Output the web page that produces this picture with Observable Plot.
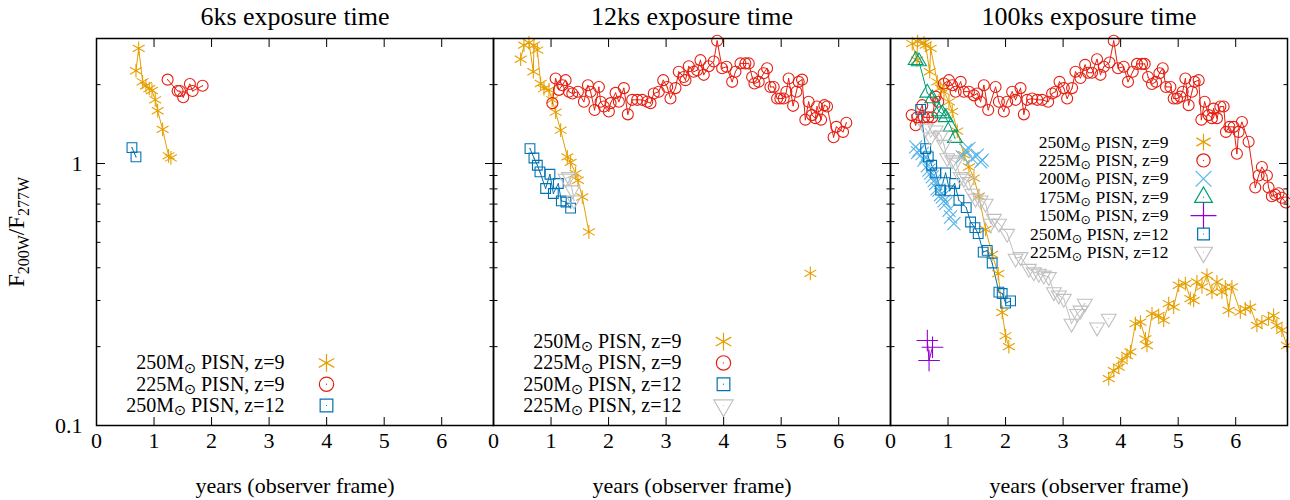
<!DOCTYPE html>
<html><head><meta charset="utf-8">
<script src="https://cdn.jsdelivr.net/npm/d3@7"></script>
<script src="https://cdn.jsdelivr.net/npm/@observablehq/plot@0.6"></script>
<style>
body{margin:0;background:#fff}
#chart{width:1290px;height:500px}
#chart svg text{font-family:'Liberation Serif','Times New Roman',serif !important;font-weight:normal}
</style>
</head><body><div id="chart"></div>
<script>
// ---------- labels & ticks ----------
const panels = ["6ks exposure time", "12ks exposure time", "100ks exposure time"];
const xAxisLabel = "years (observer frame)";
const xTicks = [0, 1, 2, 3, 4, 5, 6];
const yMajorTicks = [0.1, 1];
const yTickLabels = ["0.1", "1"];
const yMinorTicks = [0.2, 0.3, 0.4, 0.5, 0.6, 0.7, 0.8, 0.9, 2, 3];

// ---------- series ----------
const seriesKeys = ["250z9", "225z9", "200z9", "175z9", "150z9", "250z12", "225z12"];
const seriesLabels = ["250M⊙ PISN, z=9", "225M⊙ PISN, z=9", "200M⊙ PISN, z=9", "175M⊙ PISN, z=9",
  "150M⊙ PISN, z=9", "250M⊙ PISN, z=12", "225M⊙ PISN, z=12"];
const panelLegends = [
  ["250z9", "225z9", "250z12"],
  ["250z9", "225z9", "250z12", "225z12"],
  ["250z9", "225z9", "200z9", "175z9", "150z9", "250z12", "225z12"]
];

// ---------- 6ks ----------
const t6_250z9 = [0.686, 0.733, 0.802, 0.859, 0.917, 0.964, 1.021, 1.063, 1.149, 1.253, 1.293];
const v6_250z9 = [2.26, 2.75, 2.05, 1.98, 1.93, 1.90, 1.75, 1.59, 1.35, 1.07, 1.05];
const t6_225z9 = [1.236, 1.41, 1.45, 1.507, 1.623, 1.67, 1.844];
const v6_225z9 = [2.09, 1.89, 1.89, 1.79, 2.01, 1.89, 1.98];
const t6_250z12 = [0.616, 0.686];
const v6_250z12 = [1.15, 1.06];

// ---------- 12ks ----------
const t12_250z9 = [0.472, 0.53, 0.617, 0.692, 0.703, 0.762, 0.82, 0.877, 0.964, 1.02, 1.08, 1.167, 1.283, 1.34, 1.427, 1.467, 1.543, 1.658];
const v12_250z9 = [2.50, 2.83, 2.89, 2.24, 2.83, 2.71, 2.02, 1.93, 1.91, 1.75, 1.57, 1.34, 1.06, 1.01, 0.916, 0.863, 0.745, 0.548];
const t12_250z9_late = [5.507];
const v12_250z9_late = [0.381];
const t12_225z9 = [1.023,1.08,1.137,1.196,1.253,1.311,1.37,1.467,1.571,1.641,1.688,1.757,1.832,1.861,1.918,2.005,2.035,2.122,2.179,2.266,2.335,2.411,2.498,2.585,2.672,2.729,2.786,2.873,2.95,3.019,3.076,3.163,3.22,3.307,3.337,3.394,3.481,3.54,3.597,3.655,3.741,3.828,3.887,3.974,4.049,4.148,4.205,4.292,4.378,4.436,4.495,4.535,4.609,4.696,4.755,4.813,4.87,4.929,4.986,5.043,5.09,5.13,5.207,5.264,5.304,5.363,5.42,5.477,5.536,5.594,5.623,5.693,5.75,5.797,5.911,5.958,6.075,6.132];
const v12_225z9 = [1.70,2.11,1.91,1.99,2.08,1.88,1.85,1.88,1.72,1.99,1.88,1.60,1.96,1.72,1.65,1.58,1.70,1.86,1.72,1.94,1.54,1.75,1.75,1.75,1.72,1.70,1.85,1.88,2.08,1.96,1.77,1.94,2.24,2.14,2.08,2.35,2.24,2.27,2.48,2.18,2.35,2.45,2.94,2.31,2.34,2.05,2.24,2.41,2.41,2.41,2.14,2.02,2.05,2.21,2.31,1.96,1.96,1.77,1.77,1.77,1.88,2.11,1.66,1.88,2.05,2.09,1.47,1.72,1.53,1.49,1.65,1.47,1.67,1.65,1.26,1.38,1.32,1.43];
const t12_250z12 = [0.634, 0.703, 0.762, 0.807, 0.906, 0.981, 1.04, 1.127, 1.179, 1.259, 1.34];
const v12_250z12 = [1.14, 1.05, 0.985, 0.929, 0.803, 0.91, 0.768, 0.839, 0.72, 0.713, 0.676];
const t12_225z12 = [1.253, 1.311, 1.37, 1.398];
const v12_225z12 = [0.876, 0.889, 0.791, 0.724];

// ---------- 100ks ----------
const t100_250z9 = [0.378,0.46,0.47,0.582,0.611,0.681,0.698,0.8125,0.872,0.929,1.016,1.073,1.16,1.276,1.363,1.45,1.536,1.653,1.767,1.872,1.941,2.0,2.057];
const v100_250z9 = [2.87,2.48,2.92,2.89,2.83,2.24,2.75,2.05,1.94,1.88,1.72,1.58,1.33,1.08,0.97,0.88,0.75,0.56,0.45,0.38,0.27,0.22,0.20];
const t100_250z9_late = [3.793,3.88,3.967,4.024,4.111,4.17,4.257,4.344,4.431,4.458,4.545,4.661,4.748,4.835,4.922,5.009,5.125,5.212,5.269,5.326,5.413,5.5,5.587,5.674,5.76,5.819,5.877,5.934,6.08,6.167,6.253,6.368,6.455,6.571,6.658,6.715,6.802,6.889];
const v100_250z9_late = [0.151,0.162,0.167,0.177,0.185,0.191,0.245,0.248,0.214,0.202,0.267,0.263,0.252,0.292,0.283,0.343,0.348,0.305,0.300,0.353,0.338,0.374,0.323,0.353,0.323,0.338,0.275,0.338,0.271,0.279,0.283,0.241,0.248,0.256,0.263,0.241,0.231,0.202];
const t100_225z9 = [0.368,0.4375,0.465,0.552,0.582,0.656,0.726,0.785,0.83,0.929,1.016,1.073,1.132,1.219,1.276,1.363,1.45,1.507,1.566,1.623,1.698,1.826,1.884,1.97,2.028,2.115,2.174,2.26,2.318,2.375,2.462,2.549,2.635,2.74,2.809,2.868,2.938,3.012,3.07,3.156,3.215,3.302,3.382,3.434,3.503,3.59,3.649,3.707,3.806,3.88,3.955,4.054,4.128,4.21,4.285,4.372,4.418,4.476,4.545,4.615,4.674,4.731,4.788,4.865,4.922,4.979,5.038,5.078,5.125,5.182,5.24,5.286,5.356,5.403,5.46,5.53,5.587,5.616,5.674,5.733,5.79,5.83,5.889,5.964,6.021,6.05,6.108,6.224,6.34,6.398,6.455,6.542,6.571,6.628,6.687,6.745,6.802,6.872];
const v100_225z9 = [1.53,1.40,1.50,1.67,1.50,1.50,1.50,1.80,1.72,2.02,2.08,1.99,1.88,2.05,1.88,1.88,1.82,1.85,1.72,1.99,1.60,1.96,1.72,1.58,1.72,1.88,1.75,1.94,1.54,1.75,1.77,1.75,1.75,1.72,1.85,1.88,2.05,1.94,1.77,1.94,2.24,2.12,2.38,2.22,2.22,2.50,2.18,2.34,2.43,2.94,2.31,2.34,2.05,2.24,2.40,2.40,2.40,2.14,2.01,2.05,2.21,2.31,1.96,1.96,1.77,1.77,1.80,1.88,2.11,1.67,1.88,2.05,2.08,1.47,1.72,1.53,1.49,1.62,1.49,1.65,1.65,1.32,1.38,1.38,1.09,1.32,1.44,1.21,0.81,0.90,0.97,0.90,0.81,0.75,0.76,0.77,0.74,0.71];
const t100_200z9 = [0.4375,0.47,0.495,0.552,0.58,0.611,0.64,0.668,0.70,0.726,0.76,0.785,0.81,0.842,0.87,0.9,0.93,0.958,1.016,1.045,1.102,1.247,1.306,1.363,1.42,1.507,1.566,1.594];
const v100_200z9 = [1.157,1.10,1.124,1.092,1.03,1.06,0.98,0.943,0.92,0.889,0.86,0.839,0.80,0.791,0.76,0.745,0.72,0.703,0.663,0.625,0.59,1.06,1.124,1.141,1.045,1.076,1.014,1.03];
const t100_175z9 = [0.4375, 0.495, 0.639, 0.726, 0.842, 0.9, 0.958, 1.045, 1.12];
const v100_175z9 = [2.48, 2.45, 1.86, 1.77, 1.58, 1.55, 1.50, 1.38, 1.25];
const t100_150z9 = [0.64, 0.67, 0.73];
const v100_150z9 = [0.211, 0.177, 0.199];
const t100_250z12 = [0.524,0.611,0.656,0.715,0.785,0.872,0.958,1.028,1.115,1.189,1.316,1.392,1.467,1.524,1.611,1.681,1.767,1.884,1.941,2.0,2.087];
const v100_250z12 = [1.61,1.14,1.06,0.985,0.921,0.791,0.921,0.786,0.839,0.724,0.679,0.598,0.569,0.54,0.459,0.466,0.417,0.323,0.319,0.293,0.299];
const t100_225z12 = [0.611,0.698,0.785,0.872,0.929,0.986,1.073,1.132,1.219,1.276,1.363,1.42,1.479,1.566,1.653,1.74,1.797,1.884,2.028,2.174,2.26,2.405,2.491,2.578,2.665,2.752,2.839,2.925,3.012,3.146,3.243,3.302,3.377];
const v100_225z12 = [1.36,1.26,1.34,1.28,1.18,1.05,1.03,1.01,0.889,0.876,0.851,0.768,0.735,0.724,0.703,0.59,0.616,0.59,0.54,0.434,0.44,0.397,0.385,0.38,0.374,0.369,0.323,0.314,0.305,0.245,0.267,0.275,0.292];
const t100_225z12_a = [3.59];
const v100_225z12_a = [0.237];
const t100_225z12_b = [3.793];
const v100_225z12_b = [0.256];

// ---------- segments (one line each) ----------
const segments = [
  [0, "250z9", t6_250z9, v6_250z9], [0, "225z9", t6_225z9, v6_225z9], [0, "250z12", t6_250z12, v6_250z12],
  [1, "250z9", t12_250z9, v12_250z9], [1, "250z9", t12_250z9_late, v12_250z9_late],
  [1, "225z9", t12_225z9, v12_225z9], [1, "250z12", t12_250z12, v12_250z12], [1, "225z12", t12_225z12, v12_225z12],
  [2, "250z9", t100_250z9, v100_250z9], [2, "250z9", t100_250z9_late, v100_250z9_late],
  [2, "225z9", t100_225z9, v100_225z9], [2, "200z9", t100_200z9, v100_200z9],
  [2, "175z9", t100_175z9, v100_175z9], [2, "150z9", t100_150z9, v100_150z9],
  [2, "250z12", t100_250z12, v100_250z12], [2, "225z12", t100_225z12, v100_225z12],
  [2, "225z12", t100_225z12_a, v100_225z12_a], [2, "225z12", t100_225z12_b, v100_225z12_b]
];

// ---------- styles ----------
const style = {
  "250z9":  {color: "#e69f00", symbol: "asterisk", r: 6.5, rotate: 0, line: true, dot: false},
  "225z9":  {color: "#e51e10", symbol: "circle", r: 5.5, rotate: 0, line: true, dot: true},
  "200z9":  {color: "#56b4e9", symbol: "times", r: 6, rotate: 0, line: false, dot: false},
  "175z9":  {color: "#009e73", symbol: "triangle", r: 5.5, rotate: 0, line: true, dot: true},
  "150z9":  {color: "#9400d3", symbol: "plus", r: 7, rotate: 0, line: true, dot: false},
  "250z12": {color: "#0072b2", symbol: "square", r: 5.5, rotate: 0, line: true, dot: true},
  "225z12": {color: "#c0c0c0", symbol: "triangle", r: 5.5, rotate: 180, line: true, dot: true}
};

const rows = [];
segments.forEach(([p, key, ts, vs], seg) => {
  const n = Math.min(ts.length, vs.length);
  for (let i = 0; i < n; ++i) rows.push({panel: panels[p], key, seg, t: ts[i], v: vs[i]});
});

const marks = [];
for (const key of seriesKeys) {
  const s = style[key];
  if (!s.line) continue;
  marks.push(Plot.line(rows.filter(d => d.key === key), {fx: "panel", x: "t", y: "v", z: "seg", stroke: s.color, strokeWidth: 1}));
}
for (const key of seriesKeys) {
  const s = style[key];
  const data = rows.filter(d => d.key === key);
  marks.push(Plot.dot(data, {fx: "panel", x: "t", y: "v", symbol: s.symbol, r: s.r, rotate: s.rotate, stroke: s.color, strokeWidth: 1.1, fill: "none"}));
  if (s.dot) marks.push(Plot.dot(data, {fx: "panel", x: "t", y: "v", r: 0.55, fill: s.color, stroke: "none"}));
}
// legends
panelLegends.forEach((keys, p) => {
  const n = keys.length;
  keys.forEach((key, i) => {
    const s = style[key];
    const row = [{panel: panels[p], label: seriesLabels[seriesKeys.indexOf(key)]}];
    let anchor, dyRow, dxText, dxSym, fs, rs;
    if (p < 2) { anchor = "bottom-left"; dyRow = -20 - (n - 1 - i) * 21.3; dxText = 188; dxSym = 230; fs = 20; rs = 1.3; }
    else { anchor = "top-left"; dyRow = 103.5 + i * 18.4; dxText = 278; dxSym = 313; fs = 17.5; rs = 1.2; }
    marks.push(Plot.text(row, {fx: "panel", text: "label", frameAnchor: anchor, lineAnchor: "middle", dx: dxText, dy: dyRow, textAnchor: "end", fontSize: fs, fill: "black"}));
    marks.push(Plot.dot(row, {fx: "panel", frameAnchor: anchor, dx: dxSym, dy: dyRow, symbol: s.symbol, r: s.r * rs, rotate: s.rotate, stroke: s.color, strokeWidth: 1.2, fill: "none"}));
    if (s.dot) marks.push(Plot.dot(row, {fx: "panel", frameAnchor: anchor, dx: dxSym, dy: dyRow, r: 0.6, fill: s.color, stroke: "none"}));
  });
});

const chart = Plot.plot({
  width: 1290, height: 500,
  marginLeft: 95, marginRight: 2, marginTop: 38, marginBottom: 75,
  style: {fontFamily: "Liberation Serif", fontSize: "20px", background: "white", color: "black", overflow: "visible"},
  fx: {domain: panels, padding: 0, axis: null},
  x: {domain: [0, 6.9], axis: null},
  y: {type: "log", domain: [0.1, 3], axis: null},
  marks: [
    ...marks,
    Plot.frame({stroke: "black", strokeWidth: 1.5}),
    Plot.axisX({anchor: "bottom", ticks: xTicks, tickSize: -8, fill: "none", label: null}),
    Plot.axisX({anchor: "top", ticks: xTicks, tickSize: -8, fill: "none", label: null}),
    Plot.axisX({anchor: "bottom", ticks: xTicks, tickSize: 0, tickPadding: 7, label: null, fontSize: 22, tickFormat: d => String(d)}),
    Plot.axisY({anchor: "left", ticks: yMajorTicks, tickSize: -9, fill: "none", label: null, facetAnchor: null}),
    Plot.axisY({anchor: "left", ticks: yMinorTicks, tickSize: -4.5, fill: "none", label: null, facetAnchor: null}),
    Plot.axisY({anchor: "right", ticks: yMajorTicks, tickSize: -9, fill: "none", label: null, facetAnchor: null}),
    Plot.axisY({anchor: "right", ticks: yMinorTicks, tickSize: -4.5, fill: "none", label: null, facetAnchor: null}),
    Plot.axisY({anchor: "left", ticks: yMajorTicks, tickSize: 0, tickPadding: 14, label: null, fontSize: 22,
      tickFormat: d => yTickLabels[yMajorTicks.indexOf(d)]}),
    Plot.axisFx({anchor: "top", tickSize: 0, tickPadding: 14, label: null, fontSize: 26}),
    Plot.text(panels, {fx: d => d, text: () => xAxisLabel, frameAnchor: "bottom", lineAnchor: "middle", dy: 60, fontSize: 22, fill: "black"})
  ]
});

// subscripted ⊙ in legend labels
d3.select(chart).selectAll("text").each(function() {
  const s = this.textContent;
  if (!s.includes("⊙") || this.querySelector("tspan")) return;
  const [a, b] = s.split("⊙");
  const t = d3.select(this);
  t.text(null);
  t.append("tspan").text(a);
  t.append("tspan").attr("dy", "0.24em").attr("style", "font-family:'DejaVu Sans',sans-serif").attr("font-size", "0.72em").text("⊙");
  t.append("tspan").attr("dy", "-0.17em").text(b);
});

// y-axis label with subscripts
const yl = d3.select(chart).append("text")
  .attr("transform", "translate(24,232) rotate(-90)")
  .attr("text-anchor", "middle").attr("font-size", 23).attr("fill", "black");
yl.append("tspan").text("F");
yl.append("tspan").attr("dy", 5).attr("font-size", 16).text("200W");
yl.append("tspan").attr("dy", -5).text("/F");
yl.append("tspan").attr("dy", 5).attr("font-size", 16).text("277W");

document.getElementById("chart").append(chart);
</script>
</body></html>
